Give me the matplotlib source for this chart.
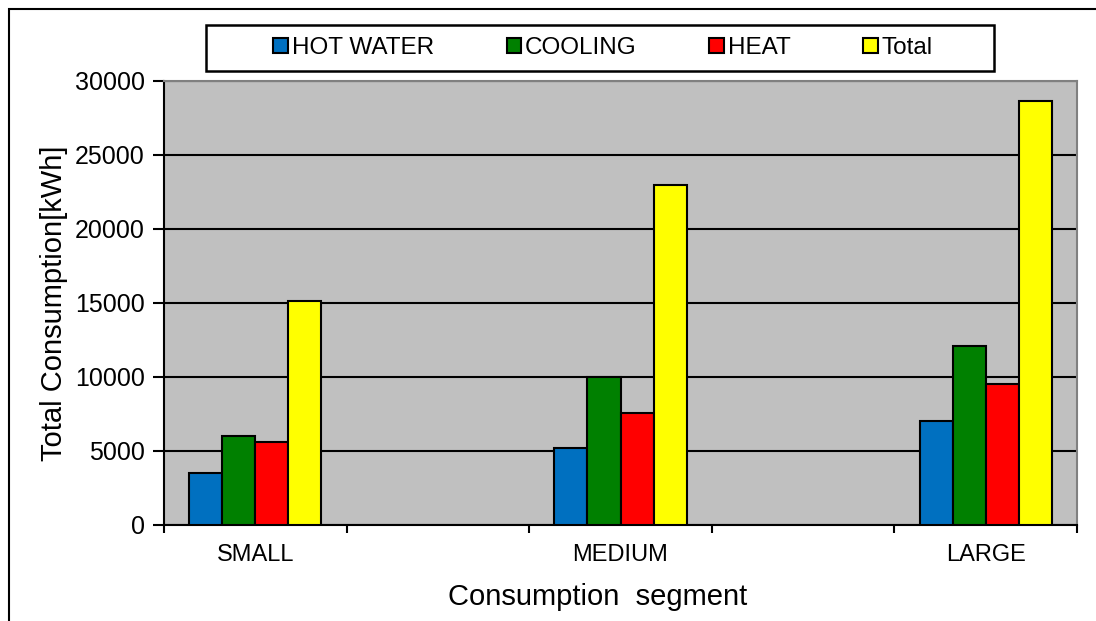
import numpy as np
import matplotlib
matplotlib.use("Agg")
import matplotlib.pyplot as plt
from matplotlib.patches import Rectangle, Patch

plt.rcParams['font.family'] = ['Liberation Sans', 'DejaVu Sans']

# data
categories = ['SMALL', 'MEDIUM', 'LARGE']
series = ['HOT WATER', 'COOLING', 'HEAT', 'Total']
hot_water = [3500, 5200, 7000]
cooling = [6000, 10000, 12100]
heat = [5600, 7600, 9500]
total = [15150, 23000, 28650]
colors = ['#0070C0', '#008000', '#FF0000', '#FFFF00']
y_ticks = [0, 5000, 10000, 15000, 20000, 25000, 30000]

values = [hot_water, cooling, heat, total]

fig = plt.figure(figsize=(10.96, 6.21), dpi=100)
ax = fig.add_axes([164 / 1096, 1 - 525 / 621, 913 / 1096, 444 / 621])
ax.set_facecolor('#C0C0C0')

# categories sit on every second slot (empty slots in between, like the original)
x = np.arange(len(categories)) * 2
w = 0.181
for i, (name, vals) in enumerate(zip(series, values)):
    ax.bar(x + (i - 1.5) * w, vals, w, color=colors[i], edgecolor='black',
           linewidth=1.5, zorder=3, label=name)

ax.set_xlim(-0.5, 4.5)
ax.set_ylim(0, 30000)
ax.set_yticks(y_ticks)
ax.yaxis.grid(True, color='black', linewidth=1.5)
ax.set_axisbelow(True)

ax.set_xticks(np.arange(-0.5, 5, 1.0))
ax.set_xticklabels([])
ax.set_xticks(x, minor=True)
ax.set_xticklabels(categories, minor=True)
ax.tick_params(axis='x', which='major', length=6, width=1.5, direction='out')
ax.tick_params(axis='x', which='minor', length=0, pad=14, labelsize=17)
ax.tick_params(axis='y', length=8, width=1.5, direction='out', pad=6, labelsize=18)

for side in ['left', 'bottom']:
    ax.spines[side].set_linewidth(1.5)
    ax.spines[side].set_color('black')
for side in ['top', 'right']:
    ax.spines[side].set_linewidth(1.5)
    ax.spines[side].set_color('#808080')

ax.set_xlabel('Consumption  segment', fontsize=21)
ax.xaxis.set_label_coords(0.475, -0.13)
ax.set_ylabel('Total Consumption[kWh]', fontsize=21)
ax.yaxis.set_label_coords(-0.105, 0.5)

# legend in its own box at the top
handles = [Patch(facecolor=c, edgecolor='black', linewidth=1.5) for c in colors]
fig.legend(handles, series, loc='center', bbox_to_anchor=(603 / 1096, 1 - 48 / 621),
           ncol=4, frameon=False, fontsize=17.5, handlelength=0.6, handleheight=0.6,
           handletextpad=0.15, columnspacing=3.0)
fig.patches.append(Rectangle((206 / 1096, 1 - 71 / 621), 788 / 1096, 46 / 621,
                             transform=fig.transFigure, facecolor='none',
                             edgecolor='black', linewidth=1.8))

# outer chart frame, cut off at right and bottom
fig.patches.append(Rectangle((9 / 1096, -0.1), 1.2, 1.1 - 9 / 621,
                             transform=fig.transFigure, facecolor='none',
                             edgecolor='black', linewidth=1.5))

fig.savefig('out.png', dpi=100)
